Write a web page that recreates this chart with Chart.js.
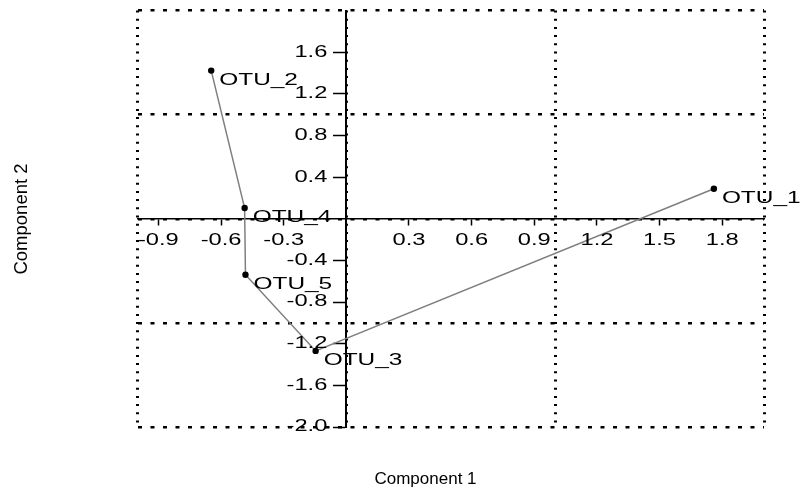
<!DOCTYPE html>
<html>
<head>
<meta charset="utf-8">
<script src="https://cdn.jsdelivr.net/npm/chart.js@4/dist/chart.umd.min.js"></script>
<style>
  html, body { margin: 0; padding: 0; background: #fff; }
  canvas { display: block; }
</style>
</head>
<body>
<canvas id="ordination" width="807" height="493"></canvas>
<script>
// OTU coordinates on the first two components
const otuNames   = ['OTU_1', 'OTU_2', 'OTU_3', 'OTU_4', 'OTU_5'];
const component1 = [1.760, -0.647, -0.147, -0.487, -0.483];
const component2 = [0.288,  1.423, -1.269,  0.103, -0.538];

// minimum spanning tree, drawn as one connected path
const treePath = ['OTU_2', 'OTU_4', 'OTU_5', 'OTU_3', 'OTU_1'];

// tick labels on the crossing axes
const xTicks = [-0.9, -0.6, -0.3, 0.3, 0.6, 0.9, 1.2, 1.5, 1.8];
const yTicks = [-2.0, -1.6, -1.2, -0.8, -0.4, 0.4, 0.8, 1.2, 1.6];

// dotted reference grid
const xGrid = [-1, 0, 1, 2];
const yGrid = [-2, -1, 0, 1, 2];

const xTitle = 'Component 1';
const yTitle = 'Component 2';

const pointData = otuNames.map((n, i) => ({ x: component1[i], y: component2[i] }));
const pathData = treePath.map(n => {
  const i = otuNames.indexOf(n);
  return { x: component1[i], y: component2[i] };
});

const FONT = '"Liberation Sans", Arial, Helvetica, sans-serif';
const WIDE = 1.48;          // horizontal stretch of the label lettering
const X_TICK_LEN = 6;
const Y_TICK_LEN = 12;
const Y_TICK_PAD = 7;

function wideText(ctx, str, x, y, align) {
  ctx.save();
  ctx.translate(x, y);
  ctx.scale(WIDE, 1);
  ctx.textAlign = align;
  ctx.fillText(str, 0, 0);
  ctx.restore();
}

const textPlugin = {
  id: 'otuText',
  afterDraw(chart) {
    const ctx = chart.ctx;
    const xs = chart.scales.x, ys = chart.scales.y;
    const axisX = xs.getPixelForValue(0);
    const axisY = ys.getPixelForValue(0);
    ctx.save();
    ctx.fillStyle = '#000';
    ctx.textBaseline = 'middle';

    // tick labels beside the axes crossing at the origin
    ctx.font = '16px ' + FONT;
    xs.ticks.forEach(t => {
      wideText(ctx, Number(t.value).toFixed(1), xs.getPixelForValue(t.value), axisY + X_TICK_LEN + 16, 'center');
    });
    ys.ticks.forEach(t => {
      wideText(ctx, Number(t.value).toFixed(1), axisX - Y_TICK_LEN - Y_TICK_PAD, ys.getPixelForValue(t.value), 'right');
    });

    // point names, set slightly below and right of each point
    ctx.font = '16.5px ' + FONT;
    otuNames.forEach((n, i) => {
      const px = xs.getPixelForValue(component1[i]);
      const py = ys.getPixelForValue(component2[i]);
      wideText(ctx, n, px + 8, py + 9.5, 'left');
    });

    // axis titles
    ctx.font = '17px ' + FONT;
    ctx.textAlign = 'center';
    ctx.textBaseline = 'alphabetic';
    ctx.fillText(xTitle, 425.5, 483.5);
    ctx.save();
    ctx.translate(26.7, 219);
    ctx.rotate(-Math.PI / 2);
    ctx.font = '18.5px ' + FONT;
    ctx.fillText(yTitle, 0, 0);
    ctx.restore();
    ctx.restore();
  }
};

new Chart(document.getElementById('ordination'), {
  type: 'scatter',
  data: {
    datasets: [
      {
        label: 'tree',
        data: pathData,
        showLine: true,
        borderColor: '#7f7f7f',
        borderWidth: 1.5,
        pointRadius: 0,
        tension: 0,
        order: 2
      },
      {
        label: 'OTU',
        data: pointData,
        backgroundColor: '#000',
        borderColor: '#000',
        borderWidth: 0,
        pointRadius: 3.2,
        order: 1
      }
    ]
  },
  options: {
    responsive: false,
    animation: false,
    devicePixelRatio: 1,
    layout: { padding: { left: 137.5, right: 43, top: 10.5, bottom: 66 } },
    plugins: { legend: { display: false }, tooltip: { enabled: false } },
    scales: {
      gx: {
        type: 'linear', axis: 'x', position: 'bottom', min: -1, max: 2,
        afterBuildTicks: s => { s.ticks = xGrid.map(v => ({ value: v })); },
        ticks: { display: false },
        grid: { color: '#000', lineWidth: 3, drawTicks: false },
        border: { display: false, dash: [2, 6.2] }
      },
      gy: {
        type: 'linear', axis: 'y', position: 'left', min: -2, max: 2,
        afterBuildTicks: s => { s.ticks = yGrid.map(v => ({ value: v })); },
        ticks: { display: false },
        grid: { color: '#000', lineWidth: 2.5, drawTicks: false },
        border: { display: false, dash: [4, 8.5] }
      },
      x: {
        type: 'linear', position: { y: 0 }, min: -1, max: 2,
        afterBuildTicks: s => { s.ticks = xTicks.map(v => ({ value: v })); },
        ticks: { display: false },
        grid: { drawOnChartArea: false, drawTicks: true, tickLength: X_TICK_LEN, tickColor: '#000', tickWidth: 1.5 },
        border: { display: true, color: '#000', width: 1.5 }
      },
      y: {
        type: 'linear', position: { x: 0 }, min: -2, max: 2,
        afterBuildTicks: s => { s.ticks = yTicks.map(v => ({ value: v })); },
        ticks: { display: false },
        grid: { drawOnChartArea: false, drawTicks: true, tickLength: Y_TICK_LEN, tickColor: '#000', tickWidth: 1.5 },
        border: { display: true, color: '#000', width: 2 }
      }
    }
  },
  plugins: [textPlugin]
});
</script>
</body>
</html>
